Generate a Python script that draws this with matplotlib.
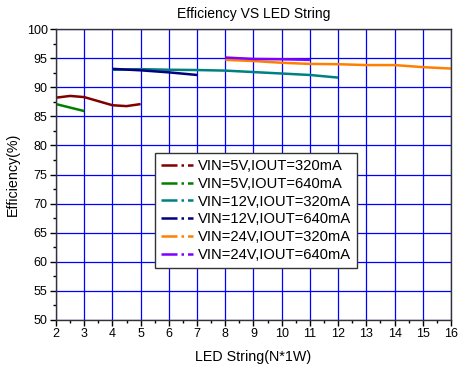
import matplotlib.pyplot as plt
from matplotlib.lines import Line2D
from matplotlib.ticker import MultipleLocator

plt.rcParams['font.family'] = ['Liberation Sans', 'DejaVu Sans']

# data
x_5v_320 = [2, 2.5, 3, 3.5, 4, 4.5, 5]
y_5v_320 = [88.2, 88.5, 88.3, 87.6, 86.9, 86.75, 87.1]

x_5v_640 = [2, 3]
y_5v_640 = [87.1, 85.9]

x_12v_320 = [4, 5, 6, 7, 8, 9, 10, 11, 12]
y_12v_320 = [93.0, 93.1, 93.0, 92.95, 92.85, 92.6, 92.35, 92.1, 91.65]

x_12v_640 = [4, 5, 6, 7]
y_12v_640 = [93.15, 92.9, 92.55, 92.1]

x_24v_320 = [8, 9, 10, 11, 12, 13, 14, 15, 16]
y_24v_320 = [94.7, 94.5, 94.2, 94.0, 93.95, 93.8, 93.8, 93.45, 93.2]

x_24v_640 = [8, 9, 10, 11]
y_24v_640 = [95.1, 94.85, 94.8, 94.7]

labels = ["VIN=5V,IOUT=320mA", "VIN=5V,IOUT=640mA", "VIN=12V,IOUT=320mA",
          "VIN=12V,IOUT=640mA", "VIN=24V,IOUT=320mA", "VIN=24V,IOUT=640mA"]
colors = ['#800000', '#008000', '#008080', '#000080', '#ff8000', '#8000ff']

series = [(x_5v_320, y_5v_320), (x_5v_640, y_5v_640), (x_12v_320, y_12v_320),
          (x_12v_640, y_12v_640), (x_24v_320, y_24v_320), (x_24v_640, y_24v_640)]

fig = plt.figure(figsize=(4.6, 3.7), dpi=100)
ax = fig.add_axes([56 / 460, 1 - 320 / 370, 395 / 460, 291 / 370])

ax.grid(True, which='major', color='#0000ff', linewidth=0.9)
ax.set_axisbelow(True)

for (xs, ys), c in zip(series, colors):
    ax.plot(xs, ys, color=c, linewidth=1.8, solid_capstyle='butt')

ax.set_xlim(2, 16)
ax.set_ylim(50, 100)
ax.xaxis.set_major_locator(MultipleLocator(1))
ax.xaxis.set_minor_locator(MultipleLocator(0.5))
ax.yaxis.set_major_locator(MultipleLocator(5))
ax.yaxis.set_minor_locator(MultipleLocator(2.5))
ax.tick_params(which='major', direction='out', length=4, width=1, labelsize=9, pad=2)
ax.tick_params(which='minor', direction='out', length=2, width=1)
for s in ax.spines.values():
    s.set_color('#333333')
    s.set_linewidth(1)

ax.set_title("Efficiency VS LED String", fontsize=10, pad=8)
ax.set_xlabel("LED String(N*1W)", fontsize=10.3, labelpad=7)
ax.set_ylabel("Efficiency(%)", fontsize=10.3, labelpad=5)

handles = [Line2D([0], [0], color=c, linestyle='-.', linewidth=1.8) for c in colors]
leg = ax.legend(handles, labels, loc='upper left', bbox_to_anchor=(0.25, 0.574),
                fontsize=10.6, frameon=True, fancybox=False, framealpha=1,
                edgecolor='#333333', handlelength=2.2, handletextpad=0.3,
                labelspacing=0.26, borderpad=0.4, borderaxespad=0)
leg.get_frame().set_linewidth(1)

fig.savefig("out.png", dpi=100)
